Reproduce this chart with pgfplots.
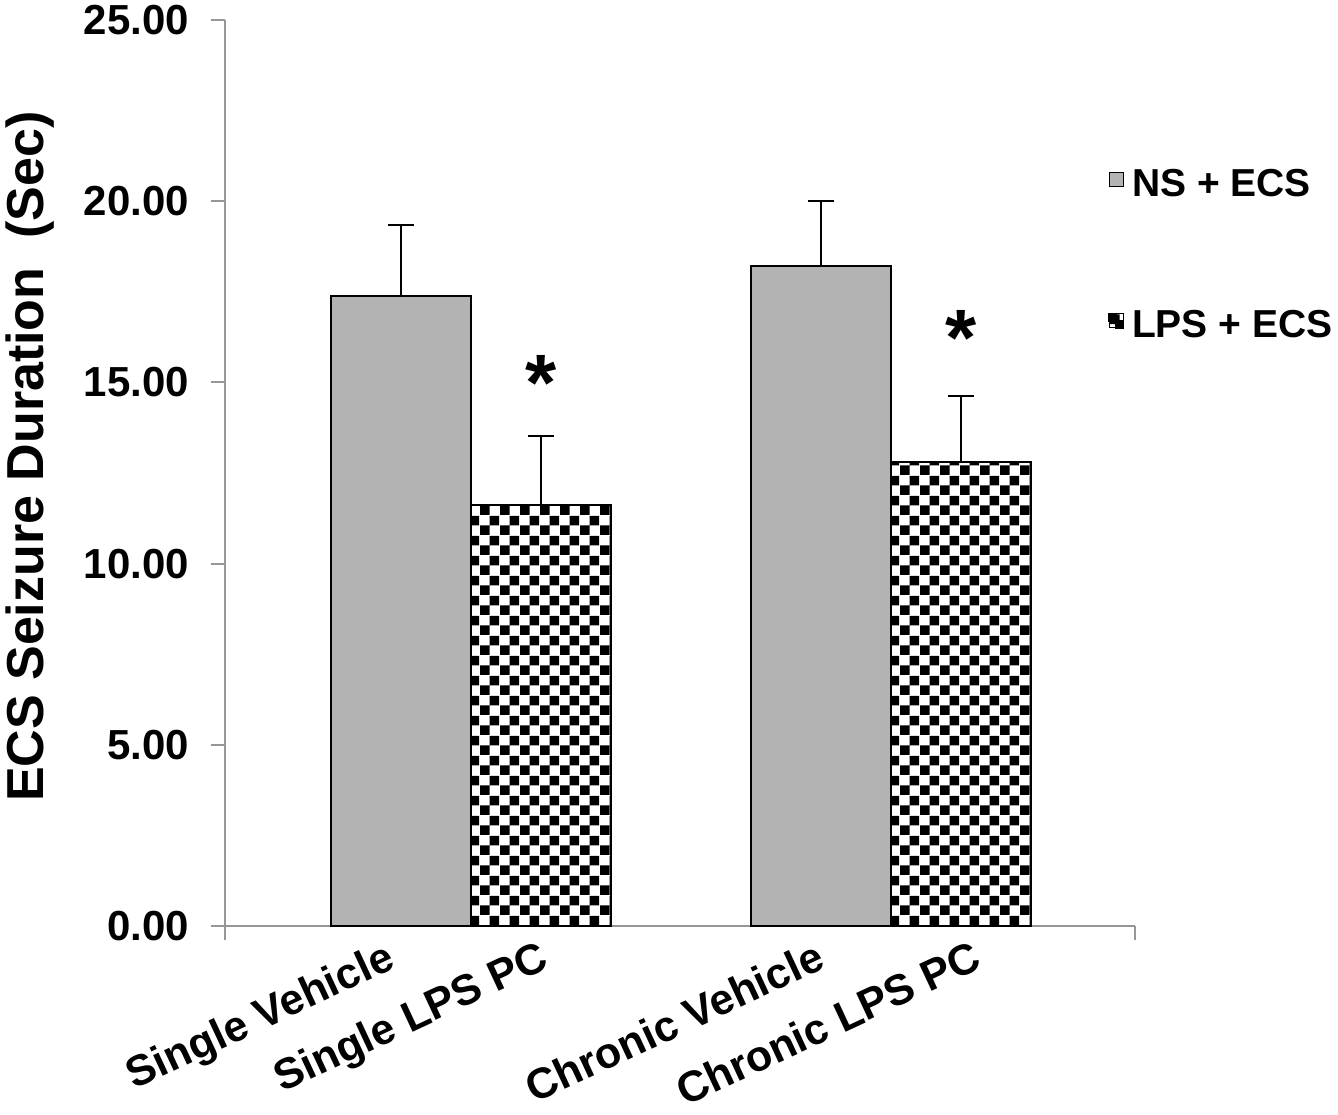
\documentclass[border=0pt]{standalone}
\usepackage{fontspec}
\setmainfont{Liberation Sans}
\usepackage{pgfplots}
\pgfplotsset{compat=1.18}
\usetikzlibrary{patterns}
\pgfdeclarepatternformonly{bigcheck}{\pgfpointorigin}{\pgfqpoint{10pt}{10pt}}{\pgfqpoint{10pt}{10pt}}{%
 \pgfpathrectangle{\pgfpointorigin}{\pgfqpoint{5pt}{5pt}}%
 \pgfpathrectangle{\pgfqpoint{5pt}{5pt}}{\pgfqpoint{5pt}{5pt}}%
 \pgfusepath{fill}}
\definecolor{bargray}{RGB}{179,179,179}
\definecolor{axisgray}{RGB}{150,150,150}
\newcommand{\tickfont}{\fontsize{21}{25}\selectfont\bfseries}
\newcommand{\xlabfont}{\fontsize{21.5}{25}\selectfont\bfseries}
\begin{document}
\begin{tikzpicture}
\useasboundingbox (-112.5pt,-94pt) rectangle (556.5pt,463pt);
\begin{axis}[
  at={(0,0)}, anchor=south west,
  scale only axis, width=455pt, height=453pt,
  xmin=0, xmax=910, ymin=0, ymax=25,
  axis lines=left,
  axis line style={-, draw=axisgray, line width=1pt},
  tick align=outside,
  major tick length=7pt,
  ytick={0,5,10,15,20,25},
  yticklabel={\pgfmathprintnumber[fixed,fixed zerofill,precision=2]{\tick}},
  /pgf/number format/assume math mode=true,
  yticklabel style={font=\tickfont, xshift=-7.5pt},
  ytick style={draw=axisgray, line width=1pt},
  xtick={178,332,608,765},
  xticklabels={Single Vehicle, Single LPS PC, Chronic Vehicle, Chronic LPS PC},
  xtick style={draw=none},
  xticklabel style={rotate=25, anchor=north east, font=\xlabfont, xshift=-5pt, yshift=8pt},
  extra x ticks={0,910},
  extra x tick labels={},
  extra x tick style={xtick style={draw=axisgray, line width=1pt}},
  ylabel={ECS Seizure Duration\ \ (Sec)},
  ylabel style={at={(axis description cs:-0.214,0.518)}, anchor=center, font=\fontsize{26}{30}\selectfont\bfseries},
  legend cell align=left,
  legend style={at={(axis description cs:0.970,0.840)}, anchor=north west, draw=none, fill=none, inner sep=0pt, row sep=51.5pt, font=\fontsize{19.5}{23}\selectfont\bfseries,
    /tikz/every even column/.append style={column sep=0pt}},
  ybar, bar width=140, bar shift=0pt,
]
\addplot[fill=bargray, draw=black, line width=1pt,
  legend image code/.code={\draw[black, line width=0.6pt, fill=bargray] (0pt,-1pt) rectangle (7pt,6pt); \path (9pt,0pt);},
  error bars/.cd, y dir=plus, y explicit,
  error bar style={black, line width=1pt},
  error mark options={rotate=90, mark size=6.5pt, line width=1pt, black}]
  coordinates {(176,17.38) +- (0,1.96) (596,18.21) +- (0,1.79)};
\addlegendentry{NS + ECS}
\addplot[fill=white, draw=black, line width=1pt, postaction={pattern=bigcheck, pattern color=black},
  legend image code/.code={\draw[black, line width=0.6pt, fill=white] (0pt,-1pt) rectangle (7pt,6pt);
     \fill[black] (0pt,2.5pt) rectangle (3.5pt,6pt); \fill[black] (3.5pt,-1pt) rectangle (7pt,2.5pt); \path (9pt,0pt);},
  error bars/.cd, y dir=plus, y explicit,
  error bar style={black, line width=1pt},
  error mark options={rotate=90, mark size=6.5pt, line width=1pt, black}]
  coordinates {(316,11.62) +- (0,1.90) (736,12.80) +- (0,1.82)};
\addlegendentry{LPS + ECS}
\node[anchor=base, font=\fontsize{40}{40}\selectfont\bfseries, inner sep=0pt] at (axis cs:316,14.22) {*};
\node[anchor=base, font=\fontsize{40}{40}\selectfont\bfseries, inner sep=0pt] at (axis cs:736,15.46) {*};
\end{axis}
\end{tikzpicture}
\end{document}
